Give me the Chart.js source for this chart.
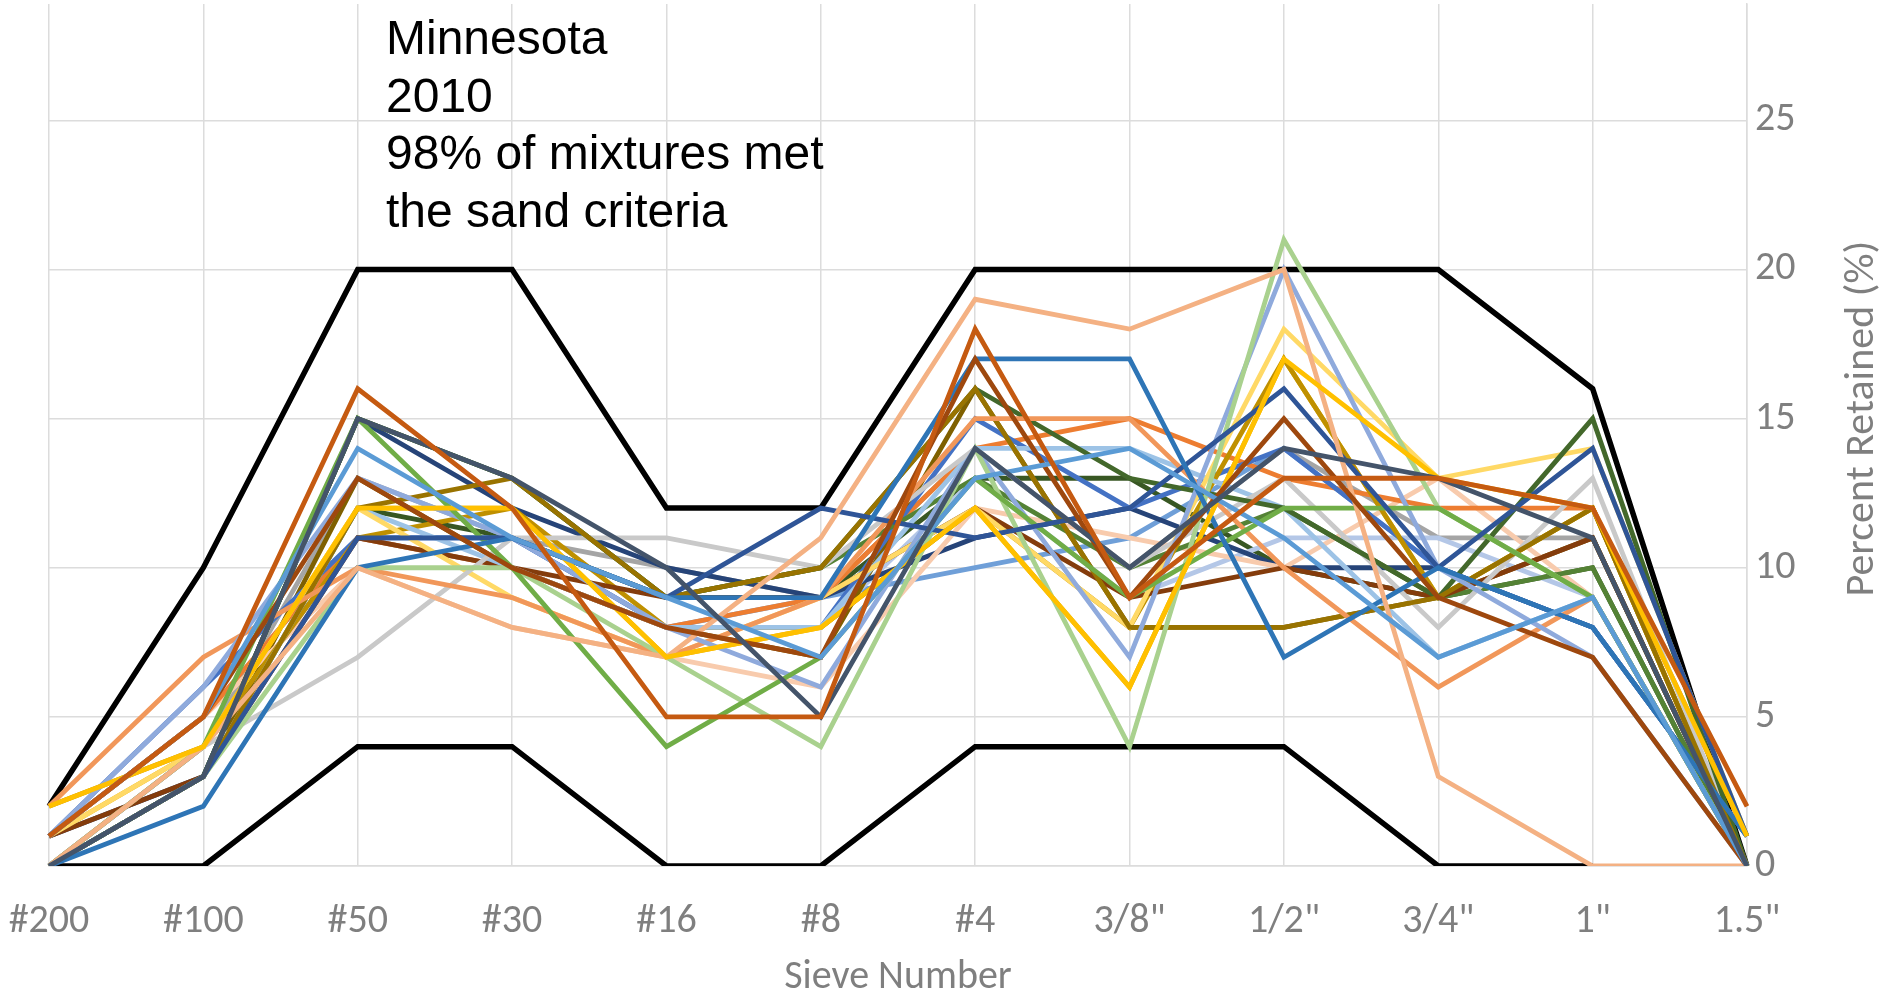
<!DOCTYPE html>
<html>
<head>
<meta charset="utf-8">
<script src="https://cdn.jsdelivr.net/npm/chart.js@4.4.1/dist/chart.umd.min.js"></script>
<style>
  html, body { margin: 0; padding: 0; background: #ffffff; }
  canvas { display: block; }
</style>
</head>
<body>
<canvas id="gradation" width="1892" height="1002"></canvas>
<script>
// Sieve sizes along the horizontal axis
const sieveLabels = ['#200', '#100', '#50', '#30', '#16', '#8', '#4', '3/8"', '1/2"', '3/4"', '1"', '1.5"'];

// Sand criteria band (percent retained on each sieve)
const upperLimit = [2, 10, 20, 20, 12, 12, 20, 20, 20, 20, 16, 0];
const lowerLimit = [0, 0, 4, 4, 0, 0, 4, 4, 4, 0, 0, null];

// Individual mixtures, percent retained per sieve
const mix01 = [1, 5, 16, 12, 5, 5, 18, 9, 13, 13, 12, 2];
const mix02 = [0, 3, 15, 13, 10, 5, 14, 10, 14, 13, 11, 0];
const mix03 = [1, 5, 14, 11, 9, 7, 13, 14, 11, 7, 9, 0];
const mix04 = [1, 5, 13, 10, 8, 7, 17, 9, 15, 9, 7, 0];
const mix05 = [2, 4, 12, 12, 7, 8, 12, 6, 17, 13, 12, 1];
const mix06 = [0, 4, 10, 8, 7, 11, 19, 18, 20, 3, 0, 0];
const mix07 = [0, 2, 10, 11, 9, 9, 17, 17, 7, 10, 8, 1];
const mix08 = [0, 3, 11, 11, 9, 12, 11, 12, 16, 10, 14, 1];
const mix09 = [0, 4, 15, 10, 4, 7, 13, 9, 12, 12, 9, 0];
const mix10 = [0, 3, 10, 10, 7, 4, 14, 4, 21, 12, 9, 0];
const mix11 = [1, 6, 13, 11, 8, 6, 14, 7, 20, 10, 7, 0];
const mix12 = [2, 7, 10, 9, 7, 9, 15, 15, 10, 6, 9, 0];
const mix13 = [0, 3, 12, 13, 9, 10, 16, 8, 8, 9, 12, 0];
const mix14 = [0, 3, 15, 13, 9, 10, 16, 13, 12, 9, 15, 0];
const mix15 = [0, 4, 7, 11, 11, 10, 14, 10, 13, 8, 13, 0];
const mix16 = [1, 4, 12, 9, 7, 9, 12, 8, 18, 13, 14, 1];
const mix17 = [0, 3, 12, 10, 8, 8, 14, 14, 12, 7, 9, 0];
const mix18 = [1, 3, 11, 10, 9, 9, 12, 9, 10, 9, 11, 0];
const mix19 = [2, 4, 11, 12, 8, 8, 12, 8, 17, 9, 12, 0];
const mix20 = [0, 3, 15, 13, 9, 10, 13, 10, 12, 9, 10, 0];
const mix21 = [1, 6, 11, 11, 8, 8, 15, 12, 14, 10, 8, 1];
const mix22 = [1, 5, 11, 10, 8, 9, 14, 15, 13, 12, 12, 1];
const mix23 = [1, 5, 10, 8, 7, 6, 12, 11, 10, 13, 9, 0];
const mix24 = [1, 3, 15, 12, 10, 9, 11, 12, 10, 10, 8, 1];
const mix25 = [0, 3, 13, 10, 8, 7, 16, 8, 8, 9, 11, 0];
const mix26 = [1, 5, 11, 10, 8, 8, 13, 9, 11, 11, 9, 0];
const mix27 = [0, 4, 13, 11, 10, 9, 14, 10, 14, 11, 11, 0];
const mix28 = [1, 4, 12, 12, 7, 8, 12, 6, 17, 9, 12, 0];
const mix29 = [0, 3, 12, 11, 9, 9, 13, 13, 10, 9, 10, 0];
const mix30 = [0, 4, 11, 11, 8, 9, 10, 11, 14, 10, 8, 1];

const mixes = [mix01, mix02, mix03, mix04, mix05, mix06, mix07, mix08, mix09, mix10,
               mix11, mix12, mix13, mix14, mix15, mix16, mix17, mix18, mix19, mix20,
               mix21, mix22, mix23, mix24, mix25, mix26, mix27, mix28, mix29, mix30];

const mixColors = ['#C55A11', '#44546A', '#5B9BD5', '#9E480E', '#FFC000', '#F4B183',
                   '#2E75B6', '#2F5597', '#70AD47', '#A9D18E', '#8FAADC', '#F1975A',
                   '#997300', '#43682B', '#C9C9C9', '#FFD966', '#9DC3E6', '#843C0C',
                   '#BF9000', '#548235', '#4472C4', '#ED7D31', '#F8CBAD', '#264478',
                   '#7F6000', '#B4C7E7', '#A5A5A5', '#E6B000', '#385723', '#6F9FD8'];

const noteLines = ['Minnesota', '2010', '98% of mixtures met', 'the sand criteria'];
const yTitle = 'Percent Retained (%)';
const xTitle = 'Sieve Number';

const axisFont = '"Carlito", "Lato", sans-serif';
const gridColor = '#dcdcdc';
const labelColor = '#7f7f7f';

const datasets = mixes.map((values, i) => ({
  label: 'Mix ' + (i + 1),
  data: values,
  borderColor: mixColors[i],
  borderWidth: 4.8,
  order: 1
}));
datasets.push({ label: 'Upper limit', data: upperLimit, borderColor: '#000000', borderWidth: 5.5, order: 5 });
datasets.push({ label: 'Lower limit', data: lowerLimit, borderColor: '#000000', borderWidth: 5.5, order: 5 });

// Text block in the upper-left of the plot
const notePlugin = {
  id: 'note',
  afterDatasetsDraw(chart) {
    const ctx = chart.ctx;
    ctx.save();
    ctx.fillStyle = '#000000';
    ctx.font = '48px "Liberation Sans", Arial, sans-serif';
    ctx.textAlign = 'left';
    ctx.textBaseline = 'alphabetic';
    noteLines.forEach((line, i) => ctx.fillText(line, 386, 54 + i * 57.7));
    ctx.restore();
  }
};

// Vertical title on the right-hand axis, reading bottom to top,
// centred on the 0-30 axis span
const yTitlePlugin = {
  id: 'yTitleUp',
  afterDraw(chart) {
    const ctx = chart.ctx;
    const y = chart.scales.y;
    const cy = y.getPixelForValue(15);
    ctx.save();
    ctx.translate(1862, cy);
    ctx.rotate(-Math.PI / 2);
    ctx.fillStyle = labelColor;
    ctx.font = '42px ' + axisFont;
    ctx.textAlign = 'center';
    ctx.textBaseline = 'middle';
    ctx.fillText(yTitle, 0, 0);
    ctx.restore();
  }
};

new Chart(document.getElementById('gradation'), {
  type: 'line',
  data: { labels: sieveLabels, datasets },
  plugins: [notePlugin, yTitlePlugin],
  options: {
    responsive: false,
    animation: false,
    devicePixelRatio: 1,
    layout: { padding: { left: 49, top: 4, right: 0, bottom: 0 } },
    elements: {
      line: { tension: 0, fill: false, borderCapStyle: 'butt', borderJoinStyle: 'miter' },
      point: { radius: 0, hoverRadius: 0 }
    },
    plugins: {
      legend: { display: false },
      tooltip: { enabled: false }
    },
    scales: {
      x: {
        type: 'category',
        grid: { color: gridColor, lineWidth: 1.5, drawTicks: false },
        border: { color: gridColor, width: 1.5 },
        ticks: {
          color: labelColor,
          font: { family: axisFont, size: 40 },
          padding: 32,
          maxRotation: 0,
          autoSkip: false
        },
        title: {
          display: true,
          text: xTitle,
          color: labelColor,
          font: { family: axisFont, size: 40 },
          padding: { top: 0, bottom: 0 }
        },
        afterFit(scale) {
          scale.height = 136;
          scale.paddingLeft = 0;
          scale.paddingRight = 0;
        }
      },
      y: {
        position: 'right',
        min: 0,
        max: 28.9,
        grid: { color: gridColor, lineWidth: 1.5, drawTicks: false },
        border: { color: gridColor, width: 1.5 },
        ticks: {
          stepSize: 5,
          includeBounds: false,
          color: labelColor,
          font: { family: axisFont, size: 40 },
          padding: 8
        },
        afterFit(scale) {
          scale.width = 145;
          scale.paddingTop = 0;
          scale.paddingBottom = 0;
        }
      }
    }
  }
});
</script>
</body>
</html>
